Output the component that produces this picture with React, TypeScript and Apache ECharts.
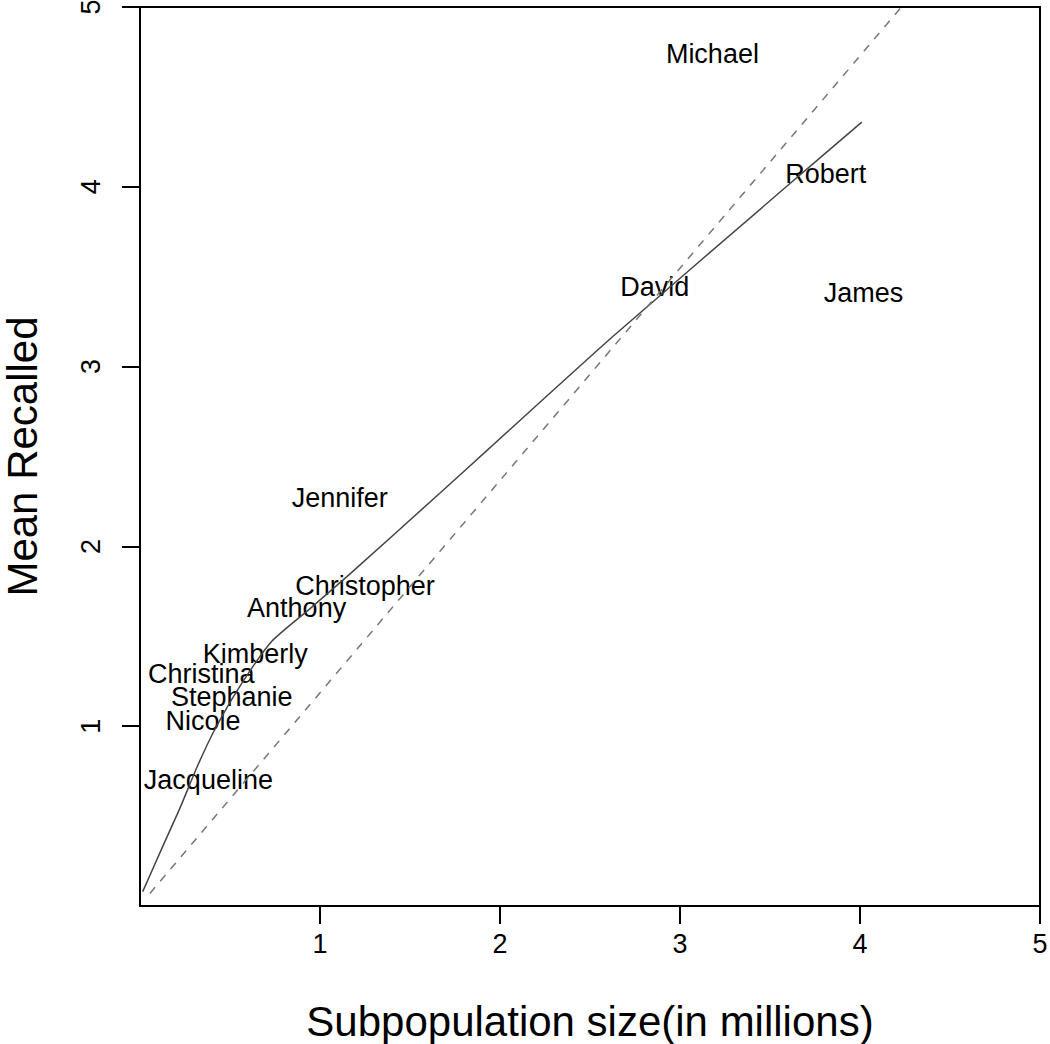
import React, { useEffect, useRef } from "react";
import * as echarts from "echarts";

const names = ["Michael", "Robert", "David", "James", "Jennifer", "Christopher", "Anthony", "Kimberly", "Christina", "Stephanie", "Nicole", "Jacqueline"];
const sizes = [3.18, 3.81, 2.86, 4.02, 1.11, 1.25, 0.87, 0.64, 0.34, 0.51, 0.35, 0.38];
const recalled = [4.74, 4.07, 3.44, 3.41, 2.27, 1.78, 1.66, 1.4, 1.29, 1.16, 1.03, 0.7];

const fitX = [0.015, 0.13, 0.22, 0.32, 0.42, 0.56, 0.73, 0.94, 1.17, 1.67, 1.94, 2.63, 3.59, 4.01];
const fitY = [0.08, 0.34, 0.54, 0.78, 0.99, 1.23, 1.47, 1.65, 1.85, 2.3, 2.545, 3.17, 4.0, 4.36];

const refX = [0.055, 4.23];
const refY = [0.07, 5.0];

const tickValues = [1, 2, 3, 4, 5];
const xTitle = "Subpopulation size(in millions)";
const yTitle = "Mean Recalled";

const FONT = "'Liberation Sans', Arial, Helvetica, sans-serif";

export default function App() {
  const ref = useRef<HTMLDivElement>(null);
  useEffect(() => {
    if (!ref.current) return;
    const chart = echarts.init(ref.current, null, { renderer: "svg" });
    const axisCommon = {
      type: "value" as const,
      min: 0,
      max: 5,
      interval: 1,
      splitLine: { show: false },
      axisLine: { show: true, lineStyle: { color: "#000", width: 2 } },
      axisTick: {
        show: true,
        inside: false,
        length: 18,
        customValues: tickValues,
        lineStyle: { color: "#000", width: 2 },
      },
      nameLocation: "middle" as const,
      nameTextStyle: { fontSize: 42, color: "#000", fontFamily: FONT },
    };
    chart.setOption({
      animation: false,
      backgroundColor: "#fff",
      textStyle: { fontFamily: FONT },
      grid: {
        left: 140,
        top: 7,
        width: 900,
        height: 899,
        outerBoundsMode: "none",
        containLabel: false,
        show: true,
        borderColor: "#000",
        borderWidth: 2,
        backgroundColor: "transparent",
      },
      xAxis: {
        ...axisCommon,
        name: xTitle,
        nameGap: 94,
        axisLabel: {
          customValues: tickValues,
          fontSize: 27,
          color: "#000",
          margin: 24,
          fontFamily: FONT,
        },
      },
      yAxis: {
        ...axisCommon,
        name: yTitle,
        nameGap: 97,
        axisLabel: {
          customValues: tickValues,
          fontSize: 27,
          color: "#000",
          margin: 36,
          rotate: 90,
          fontFamily: FONT,
        },
      },
      series: [
        {
          type: "line",
          data: fitX.map((x, i) => [x, fitY[i]]),
          showSymbol: false,
          symbol: "none",
          smooth: 0.2,
          clip: true,
          lineStyle: { color: "#444", width: 1.5 },
        },
        {
          type: "line",
          data: refX.map((x, i) => [x, refY[i]]),
          showSymbol: false,
          symbol: "none",
          clip: true,
          lineStyle: { color: "#777", width: 1.5, type: [8, 8] },
        },
        {
          type: "scatter",
          data: names.map((n, i) => ({ name: n, value: [sizes[i], recalled[i]] })),
          symbolSize: 1,
          itemStyle: { color: "rgba(0,0,0,0)" },
          label: {
            show: true,
            position: "inside",
            formatter: (p: any) => p.name,
            fontSize: 27,
            color: "#000",
            opacity: 1,
            fontFamily: FONT,
          },
          labelLayout: { hideOverlap: false },
        },
      ],
    });
    return () => chart.dispose();
  }, []);
  return (
    <div
      ref={ref}
      style={{ position: "absolute", left: 0, top: 0, width: 1050, height: 1044 }}
    />
  );
}
